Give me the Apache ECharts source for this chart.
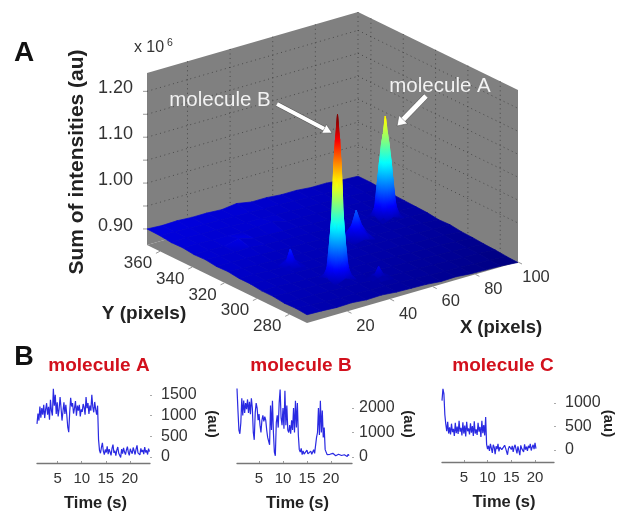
<!DOCTYPE html>
<html><head><meta charset="utf-8">
<style>html,body{margin:0;padding:0;background:#fff}#main{width:621px;height:512px;filter:blur(0.55px)}</style>
<script src="https://cdn.jsdelivr.net/npm/echarts@6/dist/echarts.min.js"></script>
</head><body><div id="main"></div>
<script>
// ---------- Panel A: surface (z in units of 0.001 x 10^6) ----------
const xTicks = [20, 40, 60, 80, 100];
const yTicks = [280, 300, 320, 340, 360];
const zLabelTicks = [0.90, 1.00, 1.10, 1.20];
const zGridTicks = [0.95, 1.00, 1.05, 1.10, 1.15, 1.20];

const floorX = [1, 8, 15, 22, 29, 36, 43, 50, 57, 64, 71, 78, 85, 92, 100];
const floorY = [269, 276, 283, 290, 297, 304, 311, 318, 325, 332, 339, 346, 353, 360, 368];
const floorZ = [
 [883,882,880,881,878,879,876,875,874,871,872,869,868,867,864],
 [885,883,881,880,879,878,877,876,875,873,872,871,869,868,865],
 [884,884,883,882,881,880,878,877,876,875,874,872,871,870,867],
 [887,885,884,883,882,881,880,879,877,876,875,874,872,871,868],
 [887,887,885,884,883,882,881,880,879,877,876,875,874,872,870],
 [890,888,887,886,885,884,882,881,880,879,878,876,875,874,871],
 [890,889,888,887,886,885,884,883,881,880,879,878,876,875,874],
 [893,891,889,888,887,886,885,884,883,881,880,879,878,876,873],
 [892,892,891,890,888,887,886,885,884,883,881,880,879,878,876],
 [895,893,892,893,890,889,888,886,885,884,883,881,880,879,877],
 [894,894,893,901,892,890,889,888,886,885,884,883,881,880,878],
 [897,896,895,894,893,895,897,889,888,887,885,884,883,881,879],
 [896,897,896,895,894,893,892,891,889,888,887,886,884,883,880],
 [899,898,897,896,895,894,893,892,891,890,888,887,885,884,882],
 [900,898,899,897,897,895,899,893,893,890,890,887,887,884,882]
];

const peakBX = [27, 28.5, 30, 31, 32, 33, 34, 35.5, 37];
const peakBY = [286, 287.5, 289, 290, 291, 292, 293, 294.5, 296];
const peakBZ = [
 [883,885,888,890,892,890,888,885,883],
 [885,892,905,920,926,920,905,892,885],
 [888,905,970,1015,1040,1015,970,905,888],
 [890,920,1015,1130,1185,1130,1015,920,890],
 [892,926,1040,1185,1240,1185,1040,926,892],
 [890,920,1015,1130,1185,1130,1015,920,890],
 [888,905,970,1015,1040,1015,970,905,888],
 [885,892,905,920,926,920,905,892,885],
 [883,885,888,890,892,890,888,885,883]
];
const peakAX = [79, 80.5, 82, 83, 84, 85, 86, 87.5, 89];
const peakAY = [325, 326.5, 328, 329, 330, 331, 332, 333.5, 335];
const peakAZ = [
 [880,882,885,887,889,887,885,882,880],
 [882,888,902,918,925,918,902,888,882],
 [885,902,965,1000,1015,1000,965,902,885],
 [887,918,1000,1040,1062,1040,1000,918,887],
 [889,925,1015,1062,1100,1062,1015,925,889],
 [887,918,1000,1040,1062,1040,1000,918,887],
 [885,902,965,1000,1015,1000,965,902,885],
 [882,888,902,918,925,918,902,888,882],
 [880,882,885,887,889,887,885,882,880]
];
const peakCX = [57, 59.5, 62, 64.5, 67];
const peakCY = [314, 316.5, 319, 321.5, 324];
const peakCZ = [
 [882,885,888,885,882],
 [885,895,908,895,885],
 [888,908,943,908,888],
 [885,895,908,895,885],
 [882,885,888,885,882]
];
const bumpLeftX = [21, 23, 25, 27, 29];
const bumpLeftY = [307, 309, 311, 313, 315];
const bumpLeftZ = [
 [887,887,888,887,887],
 [887,891,896,891,887],
 [888,896,922,896,888],
 [887,891,896,891,887],
 [887,887,888,887,887]
];
const bumpFrontX = [42, 44, 46, 48, 50];
const bumpFrontY = [280, 282, 284, 286, 288];
const bumpFrontZ = [
 [878,878,879,878,878],
 [878,881,884,881,878],
 [879,884,902,884,879],
 [878,881,884,881,878],
 [878,878,879,878,878]
];

// ---------- Panel B: traces ----------
const timeStep = 0.2;
const traceAStart = 0.7, traceBStart = 0.4, traceCStart = 0.4;
const traceA = [800,1050,880,1220,950,1180,1020,1260,940,1150,1300,1020,1210,900,1380,1120,1000,1650,1240,1500,1040,1320,980,1160,1450,1190,880,1100,1320,1040,1260,1010,720,600,1080,1430,1220,1300,1050,1180,1350,1000,1240,1120,1260,980,1150,1090,1280,1200,1020,1450,1180,1300,1040,1240,1120,1500,1210,1080,1330,1150,1020,1240,
 420,160,90,230,340,140,60,180,110,260,70,190,120,40,210,300,100,150,30,170,240,90,130,-10,190,80,220,120,60,170,250,110,40,200,130,80,230,150,60,190,280,100,140,50,210,120,170,70,240,110,160,60,200,130];
const traceB = [2800,1900,1100,950,1400,2400,1700,2300,1800,2200,1950,2350,1800,2250,1750,2400,2000,1000,700,1800,2200,2000,1500,1750,1300,1000,1500,1700,1450,1650,1500,1100,800,650,500,2100,1100,2300,1000,200,50,1400,1700,1200,2200,2750,1600,1300,2000,1150,2700,1300,2100,1100,1000,1300,950,1500,1100,2000,1000,2300,1200,2200,900,300,200,350,100,250,120,200,90,280,130,170,80,240,110,190,300,150,210,800,1000,2000,900,2300,1000,1900,800,1200,300,200,100,140,60,110,40,90,150,70,120,50,130,80,110,40,100,60,130,30,90,70,120,20,110,60];
const traceC = [1050,1300,1200,750,550,400,600,350,480,330,560,380,450,300,580,360,500,340,620,390,470,310,590,350,520,290,600,400,460,330,570,370,510,300,610,350,440,320,580,390,490,280,620,360,530,310,700,120,20,90,-20,130,40,-60,110,60,-90,80,20,130,-30,60,90,10,50,-20,100,40,70,-100,30,80,50,10,90,-40,60,110,20,-70,80,40,-110,100,30,60,-40,120,10,70,-20,90,40,130,-10,60,110,20,150,30];
const tickTimes = [5, 10, 15, 20];
const ticksA = [0, 500, 1000, 1500];
const ticksB = [0, 1000, 2000];
const ticksC = [0, 500, 1000];

// ---------- projection of the 3-D box ----------
const xDom = [1, 100], yDom = [269, 368], zDom = [0.865, 1.24];
const colorDom = [0.865, 1.23];
function project(x, y, z) {
  const u = (x - xDom[0]) / (xDom[1] - xDom[0]);
  const v = (y - yDom[0]) / (yDom[1] - yDom[0]);
  const h = (z - zDom[0]) / (zDom[1] - zDom[0]);
  return [307 + 211 * u - 160 * v, 323 - 61 * u - 78 * v - 172 * h];
}
function clamp(a) { return Math.max(0, Math.min(1, a)); }
function jet(z) {
  const t = clamp((z - colorDom[0]) / (colorDom[1] - colorDom[0]));
  const c = k => Math.round(255 * clamp(1.5 - Math.abs(4 * t - k)));
  return 'rgb(' + c(3) + ',' + c(2) + ',' + c(1) + ')';
}
function cellFill(v) {
  let a = v[0], b = v[0], lo = v[0].z, hi = v[0].z, sum = 0;
  v.forEach(p => {
    if (p.s[1] < a.s[1]) a = p;
    if (p.s[1] > b.s[1]) b = p;
    lo = Math.min(lo, p.z); hi = Math.max(hi, p.z); sum += p.z;
  });
  if (hi - lo < 0.009) return jet(sum / 4);
  const stops = [];
  for (let i = 0; i <= 8; i++) stops.push({ offset: i / 8, color: jet(a.z + (b.z - a.z) * i / 8) });
  return { type: 'linear', x: a.s[0], y: a.s[1], x2: a.s[0], y2: b.s[1], colorStops: stops, global: true };
}
function surfaceSeries(name, xs, ys, zs) {
  const cells = [];
  for (let j = ys.length - 2; j >= 0; j--) for (let i = xs.length - 2; i >= 0; i--) cells.push([i, j]);
  return {
    type: 'custom', name, coordinateSystem: 'none', silent: true, animation: false, z: 3, data: cells,
    renderItem(params, api) {
      const i = api.value(0), j = api.value(1);
      const v = [[i, j], [i + 1, j], [i + 1, j + 1], [i, j + 1]].map(c => {
        const z = zs[c[1]][c[0]] / 1000;
        return { z, s: project(xs[c[0]], ys[c[1]], z) };
      });
      const fill = cellFill(v);
      return { type: 'polygon', shape: { points: v.map(p => p.s) }, style: { fill, stroke: fill, lineWidth: 0.7 } };
    }
  };
}
const wallGrey = '#808080', gridDark = '#333333';
function frameChildren() {
  const [x0, x1] = xDom, [y0, y1] = yDom, [z0, z1] = zDom;
  const poly = pts => ({ type: 'polygon', shape: { points: pts }, style: { fill: wallGrey } });
  const dots = (a, b) => ({ type: 'line', shape: { x1: a[0], y1: a[1], x2: b[0], y2: b[1] },
    style: { stroke: gridDark, lineWidth: 1, lineDash: [1, 3.5], opacity: 0.7 } });
  const tick = (a, dx, dy) => ({ type: 'line', shape: { x1: a[0], y1: a[1], x2: a[0] + dx, y2: a[1] + dy },
    style: { stroke: '#999', lineWidth: 1 } });
  const out = [
    poly([project(x0, y1, z0), project(x1, y1, z0), project(x1, y1, z1), project(x0, y1, z1)]),
    poly([project(x1, y0, z0), project(x1, y1, z0), project(x1, y1, z1), project(x1, y0, z1)]),
    poly([project(x0, y0, z0), project(x1, y0, z0), project(x1, y1, z0), project(x0, y1, z0)])
  ];
  xTicks.forEach(t => {
    out.push(dots(project(t, y1, z0), project(t, y1, z1)));
    out.push(tick(project(t, y0, z0), 4, 2));
  });
  yTicks.forEach(t => {
    out.push(dots(project(x1, t, z0), project(x1, t, z1)));
    out.push(tick(project(x0, t, z0), -4, 2));
  });
  zGridTicks.forEach(t => {
    out.push(dots(project(x0, y1, t), project(x1, y1, t)));
    out.push(dots(project(x1, y1, t), project(x1, y0, t)));
    out.push(tick(project(x0, y1, t), -4, 0));
  });
  out.push(tick(project(x0, y1, 0.90), -4, 0));
  return out;
}
const frameSeries = {
  type: 'custom', name: 'frame', coordinateSystem: 'none', silent: true, animation: false, z: 2, data: [[0]],
  renderItem() { return { type: 'group', children: frameChildren() }; }
};

// ---------- text of panel A ----------
const sans = '"Liberation Sans", Arial, sans-serif';
const topZ = 50;
function label(text, x, y, size, opt) {
  return { type: 'text', x, y, z: topZ, silent: true, style: Object.assign({
    text, font: (opt && opt.bold ? 'bold ' : '') + size + 'px ' + sans,
    fill: '#333', textAlign: 'center', textVerticalAlign: 'middle' }, opt && opt.style) , rotation: opt && opt.rotation || 0 };
}
const graphics = [];
zLabelTicks.forEach(t => {
  const p = project(xDom[0], yDom[1], t);
  graphics.push(label(t.toFixed(2), 133, p[1] - 3, 18, { style: { textAlign: 'right' } }));
});
xTicks.forEach(t => { const p = project(t, yDom[0], zDom[0]); graphics.push(label(String(t), p[0] + 18, p[1] + 15, 16.5)); });
yTicks.forEach(t => { const p = project(xDom[0], t, zDom[0]); graphics.push(label(String(t), p[0] - 22, p[1] + 12, 17)); });
graphics.push(label('x 10', 149, 48, 16));
graphics.push(label('6', 170, 43, 10.5));
graphics.push(label('A', 24, 53, 28, { bold: true, style: { fill: '#111' } }));
graphics.push(label('B', 24, 358, 27, { bold: true, style: { fill: '#111' } }));
graphics.push(label('Sum of intensities (au)', 77, 162, 21, { bold: true, rotation: Math.PI / 2, style: { fill: '#222' } }));
graphics.push(label('Y (pixels)', 144, 314, 19, { bold: true, style: { fill: '#222' } }));
graphics.push(label('X (pixels)', 501, 328, 18.5, { bold: true, style: { fill: '#222' } }));
graphics.push(label('molecule B', 220, 100, 20.5, { style: { fill: '#f2f2f2' } }));
graphics.push(label('molecule A', 440, 86, 20.5, { style: { fill: '#f2f2f2' } }));
function arrow(x1, y1, x2, y2, w) {
  const a = Math.atan2(y2 - y1, x2 - x1), L = 9, W = w + 1;
  const bx = x2 - L * Math.cos(a), by = y2 - L * Math.sin(a);
  const nx = -Math.sin(a) * W, ny = Math.cos(a) * W;
  graphics.push({ type: 'line', z: topZ, silent: true, shape: { x1, y1, x2: bx, y2: by }, style: { stroke: '#555', lineWidth: w + 1 } });
  graphics.push({ type: 'polygon', z: topZ, silent: true, shape: { points: [[x2, y2], [bx + nx, by + ny], [bx - nx, by - ny]] }, style: { fill: '#fff', stroke: '#555', lineWidth: 0.6 } });
  graphics.push({ type: 'line', z: topZ, silent: true, shape: { x1, y1, x2: bx, y2: by }, style: { stroke: '#fff', lineWidth: w } });
}
arrow(277, 104, 332, 133, 4);
arrow(426, 96, 397, 126, 5);

// ---------- panel B grids ----------
const panels = [
  { title: 'molecule A', cx: 99, left: 37, width: 113, top: 385, height: 78, tMin: 0.7, tMax: 24.2, yMin: -145, yMax: 1739, ticks: ticksA, start: traceAStart, data: traceA, auGap: 55, namePad: 4, labelMargin: 11 },
  { title: 'molecule B', cx: 301, left: 237, width: 115, top: 385, height: 78, tMin: 0.4, tMax: 24.4, yMin: -245, yMax: 2939, ticks: ticksB, start: traceBStart, data: traceB, auGap: 49, namePad: 6, labelMargin: 7 },
  { title: 'molecule C', cx: 503, left: 442, width: 112, top: 385, height: 77, tMin: 0.4, tMax: 24.0, yMin: -255, yMax: 1383, ticks: ticksC, start: traceCStart, data: traceC, auGap: 47, namePad: 12, labelMargin: 11 }
];
const option = {
  animation: false,
  backgroundColor: '#fff',
  title: panels.map(p => ({ text: p.title, left: p.cx, top: 366, textAlign: 'center', textVerticalAlign: 'middle',
    textStyle: { color: '#d2101c', fontFamily: sans, fontWeight: 'bold', fontSize: 19 }, padding: 0 })),
  grid: panels.map(p => ({ left: p.left, width: p.width, top: p.top, height: p.height, containLabel: false, outerBoundsMode: 'none' })),
  xAxis: panels.map((p, i) => ({
    type: 'value', gridIndex: i, min: p.tMin, max: p.tMax, position: 'bottom', splitLine: { show: false },
    axisLine: { show: true, onZero: false, lineStyle: { color: '#777', width: 1.3 } },
    axisTick: { show: true, inside: true, length: 2, customValues: tickTimes, lineStyle: { color: '#999' } },
    axisLabel: { customValues: tickTimes, color: '#333', fontFamily: sans, fontSize: 15, margin: 8, formatter: v => String(v) },
    name: 'Time (s)', nameLocation: 'middle', nameGap: 32, nameMoveOverlap: false,
    nameTextStyle: { color: '#222', fontFamily: sans, fontWeight: 'bold', fontSize: 16.5, padding: [0, 0, 0, p.namePad] }
  })),
  yAxis: panels.map((p, i) => ({
    type: 'value', gridIndex: i, min: p.yMin, max: p.yMax, position: 'right', splitLine: { show: false },
    axisLine: { show: false },
    axisTick: { show: true, inside: false, length: 2, customValues: p.ticks, lineStyle: { color: '#aaa' } },
    axisLabel: { customValues: p.ticks, color: '#333', fontFamily: sans, fontSize: 16, margin: p.labelMargin, formatter: v => String(v) },
    name: '(au)', nameLocation: 'middle', nameRotate: -90, nameGap: p.auGap, nameMoveOverlap: false,
    nameTextStyle: { color: '#222', fontFamily: sans, fontWeight: 'bold', fontSize: 15 }
  })),
  graphic: { elements: graphics },
  series: [
    frameSeries,
    surfaceSeries('floor', floorX, floorY, floorZ),
    surfaceSeries('molecule A', peakAX, peakAY, peakAZ),
    surfaceSeries('molecule C', peakCX, peakCY, peakCZ),
    surfaceSeries('bump left', bumpLeftX, bumpLeftY, bumpLeftZ),
    surfaceSeries('bump front', bumpFrontX, bumpFrontY, bumpFrontZ),
    surfaceSeries('molecule B', peakBX, peakBY, peakBZ)
  ].concat(panels.map((p, i) => ({
    type: 'line', xAxisIndex: i, yAxisIndex: i, showSymbol: false, animation: false, silent: true,
    lineStyle: { color: '#2a2ae2', width: 1.2 }, z: 4,
    data: p.data.map((v, k) => [p.start + k * timeStep, v])
  })))
};
const chart = echarts.init(document.getElementById('main'), null, { renderer: 'canvas' });
chart.setOption(option);
</script></body></html>
